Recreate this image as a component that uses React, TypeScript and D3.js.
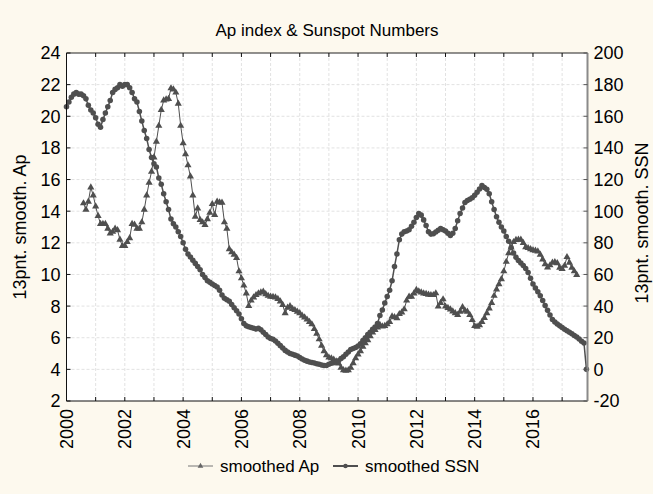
import React from 'react';
import * as d3 from 'd3';

const W = 653;
const H = 494;

// monthly values, first value = Jan 2000
const ssnStartMonth = 0;
const ssnValues = [
  166, 169, 172, 174, 175, 174, 174, 173, 171, 167, 164, 162,
  159, 155, 153, 158, 162, 166, 170, 175, 177, 178, 180, 179,
  180, 180, 178, 175, 171, 169, 163, 157, 151, 146, 139, 134,
  130, 128, 121, 117, 111, 106, 101, 95, 92, 90, 87, 84,
  80, 76, 73, 71, 69, 67, 65, 63, 60, 58, 56, 55,
  54, 53, 52, 50, 47, 45, 44, 43, 41, 39, 37, 35,
  32, 29, 27.5, 27, 26.5, 26, 25.5, 26, 25, 23.5, 22, 20.5,
  19.5, 19, 18, 16.5, 15, 13.5, 12, 11, 10, 9.5, 9, 8.5,
  7.5, 6.5, 5.8, 5.2, 4.7, 4.3, 4, 3.6, 3.2, 2.8, 2.5, 2.5,
  3.2, 3.8, 4.2, 4.6, 5.5, 6.8, 8, 9.5, 11, 12.5, 13.2, 13.8,
  14.8, 16.2, 18.2, 20, 22, 23.5, 25.3, 26.8, 29, 34, 37.5, 42,
  46, 50, 56, 65, 73, 82, 85.5, 87, 87.5, 88.3, 90.5, 93,
  96, 98.5, 97.5, 94.5, 91, 87, 85.5, 85.8, 86.8, 88, 89, 88.3,
  87.4, 86, 84.7, 86, 89, 94, 98.5, 102, 105.5, 106.8, 107.5, 108.5,
  110, 112, 114, 116.3, 115, 113.8, 111, 106, 101, 96.5, 93, 90,
  87.5, 84, 81, 77, 73.5, 70.8, 68.8, 67.2, 65.6, 63.8, 61.2, 57.6,
  54, 51.5, 49, 46.5, 43.6, 40.3, 37.3, 34.3, 31.5, 30, 28.6, 27.5,
  26.5, 25.4, 24.4, 23.4, 22.5, 21.4, 20.4, 19.2, 17.8, 16.6, 0,
];

// monthly values, first value = Aug 2000
const apStartMonth = 7;
const apValues = [
  14.5, 14.1, 14.6, 15.5, 15.0,
  14.3, 13.7, 13.2, 13.2, 13.2, 12.9, 12.6, 12.7, 12.9, 12.8, 12.2, 11.8,
  11.8, 12.05, 12.3, 13.2, 13.15, 12.9, 12.9, 13.3, 14.1, 15.0, 15.8, 16.5,
  17.4, 18.4, 19.4, 20.4, 21.0, 21.07, 21.1, 21.77, 21.7, 21.5, 20.8, 19.4,
  18.3, 17.6, 16.9, 16.2, 15.0, 13.65, 14.18, 13.45, 13.3, 13.13, 13.5, 13.9,
  14.45, 13.76, 14.6, 14.55, 14.54, 13.3, 12.9, 11.6, 11.4, 11.25, 11.05, 10.2,
  9.76, 9.3, 8.8, 8.01, 8.35, 8.55, 8.7, 8.8, 8.87, 8.91, 8.75, 8.65,
  8.6, 8.58, 8.55, 8.45, 8.3, 8.07, 7.55, 7.9, 8.0, 7.82, 7.75, 7.65,
  7.55, 7.4, 7.28, 7.15, 7.0, 6.85, 6.55, 6.25, 5.9, 5.5, 5.15, 4.9,
  4.75, 4.7, 4.62, 4.5, 4.38, 4.1, 3.95, 3.92, 3.95, 4.1, 4.39, 4.7,
  4.95, 5.15, 5.43, 5.65, 5.85, 6.1, 6.33, 6.5, 6.65, 6.81, 6.72, 6.75,
  6.85, 7.0, 7.35, 7.3, 7.23, 7.5, 7.6, 7.8, 8.35, 8.6, 8.6, 8.8,
  9.02, 8.93, 8.86, 8.8, 8.77, 8.72, 8.7, 8.7, 8.81, 7.97, 8.2, 8.43,
  7.97, 7.88, 7.79, 7.66, 7.55, 7.44, 7.65, 7.93, 7.71, 7.65, 7.44, 7.12,
  6.74, 6.7, 6.8, 7.0, 7.25, 7.55, 7.85, 8.2, 8.65, 9.05, 9.38, 9.7,
  10.2, 10.8, 11.35, 11.7, 12.05, 12.18, 12.2, 12.2, 12.0, 11.72, 11.67, 11.6,
  11.54, 11.5, 11.46, 11.25, 10.95, 10.65, 10.45, 10.58, 10.75, 10.78, 10.71, 10.42,
  10.35, 10.55, 11.1, 10.75, 10.42, 10.2, 9.97,
];

const yearTicks = [2000, 2002, 2004, 2006, 2008, 2010, 2012, 2014, 2016];
const apTicks = [2, 4, 6, 8, 10, 12, 14, 16, 18, 20, 22, 24];
const ssnTicks = [-20, 0, 20, 40, 60, 80, 100, 120, 140, 160, 180, 200];

const left = 66.5, right = 587.5, top = 53, bottom = 401;
const ink = '#4f4f4f';
const font = 'Arial, "Liberation Sans", sans-serif';

const x = d3.scaleLinear().domain([2000, 2017.87]).range([left, right]);
const yAp = d3.scaleLinear().domain([2, 24]).range([bottom, top]);
const ySsn = d3.scaleLinear().domain([-20, 200]).range([bottom, top]);

const ssnPts = ssnValues.map((v, i) => [2000 + (ssnStartMonth + i) / 12, v]);
const apPts = apValues.map((v, i) => [2000 + (apStartMonth + i) / 12, v]);

const ssnLine = d3.line<number[]>().x(d => x(d[0])).y(d => ySsn(d[1]));
const apLine = d3.line<number[]>().x(d => x(d[0])).y(d => yAp(d[1]));
const tri = d3.symbol(d3.symbolTriangle, 22)()!;
const dot = d3.symbol(d3.symbolCircle, 24)()!;
const triSmall = d3.symbol(d3.symbolTriangle, 14)()!;
const dotSmall = d3.symbol(d3.symbolCircle, 16)()!;

const years = d3.range(2000, 2018);

export default function App() {
  return (
    <svg width={W} height={H} style={{ position: 'absolute', left: 0, top: 0 }} fontFamily={font}>
      <rect width={W} height={H} fill="#fdf9ee" />
      <rect x={left} y={top} width={right - left} height={bottom - top} fill="#fff" />

      {/* grid */}
      {years.slice(1).map(yr => (
        <line key={'gx' + yr} x1={x(yr)} x2={x(yr)} y1={top} y2={bottom} stroke="#e2e2e2" strokeDasharray="3,2" />
      ))}
      {apTicks.slice(1, -1).map(t => (
        <line key={'gy' + t} x1={left} x2={right} y1={yAp(t)} y2={yAp(t)} stroke="#e2e2e2" strokeDasharray="3,2" />
      ))}

      {/* series */}
      <path d={apLine(apPts)!} fill="none" stroke={ink} strokeWidth={1} />
      {apPts.map((d, i) => (
        <path key={'a' + i} d={tri} transform={`translate(${x(d[0])},${yAp(d[1])})`} fill={ink} />
      ))}
      <path d={ssnLine(ssnPts)!} fill="none" stroke={ink} strokeWidth={1.5} />
      {ssnPts.map((d, i) => (
        <path key={'s' + i} d={dot} transform={`translate(${x(d[0])},${ySsn(d[1])})`} fill={ink} />
      ))}

      {/* frame */}
      <line x1={left} x2={right} y1={top} y2={top} stroke="#222" />
      <line x1={left} x2={right} y1={bottom} y2={bottom} stroke="#111" />
      <line x1={left} x2={left} y1={top} y2={bottom} stroke="#111" />
      <line x1={right} x2={right} y1={top} y2={bottom} stroke="#8a8a8a" strokeWidth={2} />

      {/* ticks */}
      {years.map(yr => (
        <g key={'tx' + yr}>
          <line x1={x(yr)} x2={x(yr)} y1={bottom} y2={bottom - 4} stroke="#111" />
          <line x1={x(yr)} x2={x(yr)} y1={top} y2={top + 4} stroke="#111" />
        </g>
      ))}
      {apTicks.map(t => (
        <g key={'ta' + t}>
          <line x1={left} x2={left + 4} y1={yAp(t)} y2={yAp(t)} stroke="#111" />
          <text x={left - 6} y={yAp(t)} dy="0.36em" textAnchor="end" fontSize={18}>{t}</text>
        </g>
      ))}
      {ssnTicks.map(t => (
        <g key={'ts' + t}>
          <line x1={right - 4} x2={right} y1={ySsn(t)} y2={ySsn(t)} stroke="#555" />
          <text x={right + 6} y={ySsn(t)} dy="0.36em" textAnchor="start" fontSize={18}>{t}</text>
        </g>
      ))}
      {yearTicks.map(yr => (
        <text key={'lx' + yr} transform={`translate(${x(yr)},${bottom + 8}) rotate(-90)`} dy="0.36em" textAnchor="end" fontSize={18}>{yr}</text>
      ))}

      {/* titles */}
      <text x={(left + right) / 2} y={36} textAnchor="middle" fontSize={17}>Ap index &amp; Sunspot Numbers</text>
      <text transform={`translate(26,${(top + bottom) / 2}) rotate(-90)`} textAnchor="middle" fontSize={18}>13pnt. smooth. Ap</text>
      <text transform={`translate(648,${(top + bottom) / 2 - 4}) rotate(-90)`} textAnchor="middle" fontSize={18}>13pnt. smooth. SSN</text>

      {/* legend */}
      <g transform="translate(0,466)">
        <line x1={188} x2={213} y1={0} y2={0} stroke="#777" />
        <path d={triSmall} transform="translate(200.5,0)" fill="#666" />
        <text x={220} y={0} dy="0.36em" fontSize={17}>smoothed Ap</text>
        <line x1={333} x2={358} y1={0} y2={0} stroke={ink} strokeWidth={2} />
        <path d={dotSmall} transform="translate(345.5,0)" fill={ink} />
        <text x={365} y={0} dy="0.36em" fontSize={17}>smoothed SSN</text>
      </g>
    </svg>
  );
}
